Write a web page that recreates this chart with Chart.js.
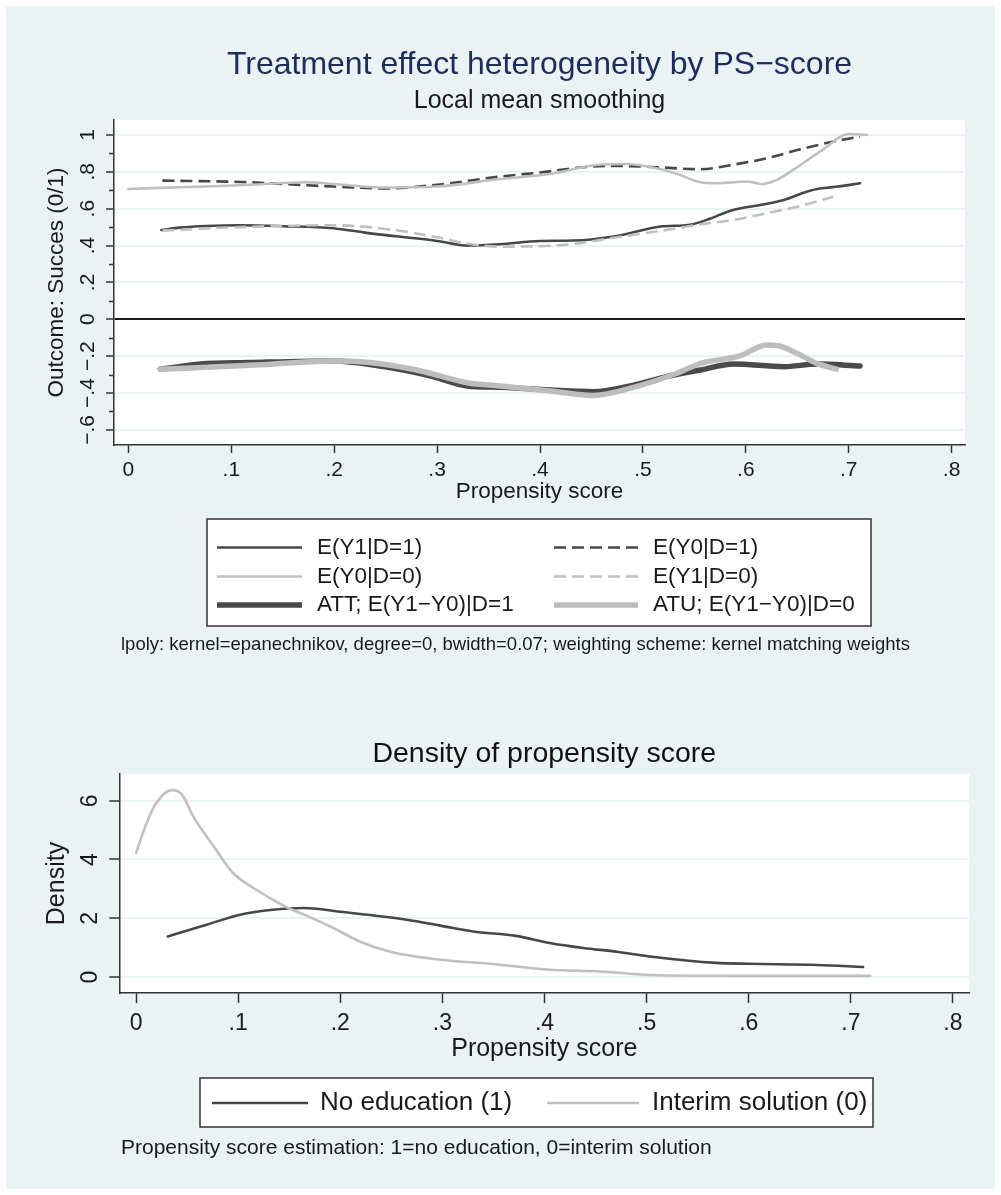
<!DOCTYPE html>
<html>
<head>
<meta charset="utf-8">
<title>Treatment effect heterogeneity by PS-score</title>
<script src="https://cdn.jsdelivr.net/npm/chart.js@4.4.1/dist/chart.umd.min.js"></script>
<style>
  html, body { margin: 0; padding: 0; background: #fff; }
  #page { position: relative; width: 1001px; height: 1195px; }
  #panel { position: absolute; left: 6px; top: 6px; width: 989px; height: 1183px; background: #eaf2f3; }
  canvas { position: absolute; left: 0; }
  #effects { top: 0; }
  #density { top: 680px; }
</style>
</head>
<body>
<div id="page">
  <div id="panel"></div>
  <canvas id="effects" width="1001" height="680"></canvas>
  <canvas id="density" width="1001" height="515"></canvas>
</div>
<script>
// Treatment effect heterogeneity + propensity score density (Stata style)

// ---- data: top panel ----
const xTicks = [0, 0.1, 0.2, 0.3, 0.4, 0.5, 0.6, 0.7, 0.8];
const xTickLabels = ['0', '.1', '.2', '.3', '.4', '.5', '.6', '.7', '.8'];
const yTicksTop = [-0.6, -0.4, -0.2, 0, 0.2, 0.4, 0.6, 0.8, 1];
const yTickLabelsTop = ['\u2212.6', '\u2212.4', '\u2212.2', '0', '.2', '.4', '.6', '.8', '1'];
const yMinorTop = [-0.5, -0.3, -0.1, 0.1, 0.3, 0.5, 0.7, 0.9];

const y1d1X = [0.032, 0.05, 0.076, 0.109, 0.15, 0.199, 0.23, 0.26, 0.30, 0.33, 0.361, 0.40, 0.432, 0.475, 0.517, 0.546, 0.565, 0.585, 0.614, 0.637, 0.659, 0.672, 0.69, 0.711];
const y1d1Y = [0.484, 0.497, 0.506, 0.51, 0.505, 0.494, 0.47, 0.45, 0.425, 0.40, 0.407, 0.425, 0.427, 0.452, 0.503, 0.513, 0.545, 0.589, 0.620, 0.647, 0.692, 0.709, 0.72, 0.738];

const y0d1X = [0.033, 0.109, 0.199, 0.25, 0.30, 0.361, 0.40, 0.442, 0.475, 0.513, 0.556, 0.588, 0.62, 0.653, 0.685, 0.711];
const y0d1Y = [0.752, 0.745, 0.72, 0.71, 0.73, 0.774, 0.796, 0.825, 0.832, 0.825, 0.814, 0.839, 0.873, 0.922, 0.964, 0.991];

const y0d0X = [0.0, 0.05, 0.109, 0.173, 0.199, 0.25, 0.30, 0.361, 0.41, 0.455, 0.484, 0.513, 0.535, 0.556, 0.572, 0.601, 0.616, 0.630, 0.646, 0.672, 0.701, 0.718];
const y0d0Y = [0.707, 0.716, 0.727, 0.743, 0.734, 0.715, 0.72, 0.761, 0.788, 0.837, 0.842, 0.819, 0.785, 0.743, 0.738, 0.747, 0.733, 0.756, 0.81, 0.909, 1.005, 1.0];

const y1d0X = [0.033, 0.109, 0.199, 0.25, 0.30, 0.33, 0.361, 0.426, 0.475, 0.523, 0.556, 0.588, 0.62, 0.653, 0.685];
const y1d0Y = [0.481, 0.50, 0.51, 0.49, 0.445, 0.41, 0.394, 0.405, 0.445, 0.485, 0.515, 0.539, 0.575, 0.615, 0.665];

const attX = [0.031, 0.07, 0.118, 0.2, 0.248, 0.296, 0.329, 0.361, 0.41, 0.452, 0.491, 0.523, 0.556, 0.588, 0.637, 0.669, 0.711];
const attY = [-0.271, -0.243, -0.235, -0.226, -0.257, -0.311, -0.362, -0.369, -0.384, -0.393, -0.357, -0.311, -0.275, -0.243, -0.257, -0.243, -0.253];

const atuX = [0.031, 0.118, 0.2, 0.232, 0.28, 0.329, 0.361, 0.41, 0.452, 0.491, 0.533, 0.556, 0.594, 0.62, 0.633, 0.653, 0.669, 0.688];
const atuY = [-0.271, -0.25, -0.226, -0.233, -0.275, -0.344, -0.362, -0.389, -0.413, -0.369, -0.293, -0.239, -0.199, -0.139, -0.145, -0.194, -0.239, -0.271];

// ---- data: bottom panel ----
const yTicksBottom = [0, 2, 4, 6];
const yTickLabelsBottom = ['0', '2', '4', '6'];

const noEduX = [0.031, 0.069, 0.102, 0.134, 0.164, 0.2, 0.265, 0.298, 0.33, 0.372, 0.405, 0.438, 0.471, 0.503, 0.568, 0.601, 0.667, 0.712];
const noEduY = [1.38, 1.78, 2.12, 2.29, 2.35, 2.22, 1.95, 1.75, 1.55, 1.40, 1.16, 0.99, 0.86, 0.70, 0.48, 0.45, 0.41, 0.34];

const interimX = [0, 0.0105, 0.02, 0.035, 0.045, 0.056, 0.076, 0.095, 0.115, 0.149, 0.167, 0.193, 0.219, 0.249, 0.298, 0.347, 0.405, 0.454, 0.503, 0.601, 0.719];
const interimY = [4.22, 5.25, 5.93, 6.36, 6.21, 5.47, 4.45, 3.54, 3.03, 2.35, 2.09, 1.67, 1.21, 0.86, 0.59, 0.45, 0.25, 0.19, 0.07, 0.04, 0.04];

const FONT = "'Liberation Sans', Arial, Helvetica, sans-serif";
const DARK = '#474747';
const LIGHT = '#c0c0c0';
const INK = '#1a1a1a';
const GRID = '#eaf2f3';

Chart.defaults.font.family = FONT;
Chart.defaults.color = INK;

const toPoints = (xs, ys) => xs.map((x, i) => ({ x: x, y: ys[i] }));

function series(label, xs, ys, color, width, dash, order) {
  return {
    label: label,
    data: toPoints(xs, ys),
    borderColor: color,
    borderWidth: width,
    borderDash: dash,
    borderCapStyle: dash.length ? 'butt' : 'round',
    borderJoinStyle: 'round',
    cubicInterpolationMode: 'monotone',
    pointRadius: 0,
    fill: false,
    order: order
  };
}

// white plot region, rotated y labels, minor ticks, boxed legend and note
const stataDecor = {
  id: 'stataDecor',
  beforeDraw(chart) {
    const { ctx, chartArea: a } = chart;
    ctx.save();
    ctx.fillStyle = '#ffffff';
    ctx.fillRect(a.left, a.top, a.right - a.left, a.bottom - a.top);
    ctx.restore();
  },
  afterDraw(chart, args, opts) {
    const { ctx, chartArea: a } = chart;
    const yScale = chart.scales.y;
    ctx.save();

    // rotated y tick labels
    ctx.fillStyle = INK;
    ctx.font = opts.tickSize + 'px ' + FONT;
    ctx.textAlign = 'center';
    ctx.textBaseline = 'alphabetic';
    opts.yTicks.forEach((v, i) => {
      const py = yScale.getPixelForValue(v);
      ctx.save();
      ctx.translate(opts.yLabelX, py);
      ctx.rotate(-Math.PI / 2);
      ctx.fillText(opts.yLabels[i], 0, 0);
      ctx.restore();
    });

    // minor ticks
    ctx.strokeStyle = '#333';
    ctx.lineWidth = 1.5;
    (opts.yMinor || []).forEach(v => {
      const py = Math.round(yScale.getPixelForValue(v)) + 0.5;
      ctx.beginPath();
      ctx.moveTo(a.left - 5, py);
      ctx.lineTo(a.left, py);
      ctx.stroke();
    });

    // legend box
    const lg = opts.legend;
    ctx.fillStyle = '#ffffff';
    ctx.fillRect(lg.x, lg.y, lg.w, lg.h);
    ctx.strokeStyle = '#333';
    ctx.lineWidth = 1.5;
    ctx.strokeRect(lg.x, lg.y, lg.w, lg.h);

    ctx.font = lg.size + 'px ' + FONT;
    ctx.textAlign = 'left';
    ctx.textBaseline = 'middle';
    chart.data.datasets.forEach((ds, i) => {
      const col = i % lg.keyX.length;
      const row = Math.floor(i / lg.keyX.length);
      const ky = lg.rowY[row];
      ctx.save();
      ctx.strokeStyle = ds.borderColor;
      ctx.lineWidth = ds.borderWidth;
      ctx.setLineDash(ds.borderDash || []);
      ctx.lineCap = 'butt';
      ctx.beginPath();
      ctx.moveTo(lg.keyX[col], ky);
      ctx.lineTo(lg.keyX[col] + lg.keyW[col], ky);
      ctx.stroke();
      ctx.restore();
      ctx.fillStyle = INK;
      ctx.fillText(ds.label, lg.textX[col], ky);
    });

    // note
    ctx.font = opts.note.size + 'px ' + FONT;
    ctx.fillStyle = INK;
    ctx.textAlign = 'left';
    ctx.textBaseline = 'middle';
    ctx.fillText(opts.note.text, opts.note.x, opts.note.y);

    ctx.restore();
  }
};

function axisX(min, max, height, tickLen, pad, tickSize, titleSize, titlePad) {
  return {
    type: 'linear',
    min: min,
    max: max,
    afterBuildTicks: s => { s.ticks = xTicks.map(v => ({ value: v })); },
    afterFit: s => { s.height = height; },
    ticks: {
      callback: (v, i) => xTickLabels[i],
      font: { size: tickSize },
      color: INK,
      padding: pad,
      maxRotation: 0,
      autoSkip: false
    },
    grid: { drawOnChartArea: false, tickLength: tickLen, tickColor: '#333', tickWidth: 1.5 },
    border: { color: '#333', width: 1.5 },
    title: { display: true, text: 'Propensity score', font: { size: titleSize }, color: INK, padding: { top: 0, bottom: titlePad } }
  };
}

function axisY(min, max, width, ticks, tickLen, title, titleSize, titlePad) {
  return {
    type: 'linear',
    min: min,
    max: max,
    afterBuildTicks: s => { s.ticks = ticks.map(v => ({ value: v })); },
    afterFit: s => { s.width = width; },
    ticks: { display: false },
    grid: {
      color: c => (c.tick && c.tick.value === 0 && ticks[0] < 0) ? '#1a1a1a' : GRID,
      lineWidth: 2,
      tickLength: tickLen,
      tickColor: '#333',
      tickWidth: 1.5
    },
    border: { color: '#333', width: 1.5 },
    title: { display: true, text: title, font: { size: titleSize }, color: INK, padding: { top: titlePad, bottom: 0 } }
  };
}

// ---- top chart ----
new Chart(document.getElementById('effects'), {
  type: 'line',
  data: {
    datasets: [
      series('E(Y1|D=1)', y1d1X, y1d1Y, DARK, 2.6, [], 5),
      series('E(Y0|D=1)', y0d1X, y0d1Y, DARK, 2.6, [12, 6], 4),
      series('E(Y0|D=0)', y0d0X, y0d0Y, LIGHT, 2.6, [], 3),
      series('E(Y1|D=0)', y1d0X, y1d0Y, LIGHT, 2.6, [12, 6], 2),
      series('ATT; E(Y1\u2212Y0)|D=1', attX, attY, '#4a4a4a', 5.5, [], 1),
      series('ATU; E(Y1\u2212Y0)|D=0', atuX, atuY, '#bdbdc0', 5.5, [], 0)
    ]
  },
  options: {
    responsive: false,
    animation: false,
    events: [],
    layout: { padding: { left: 0, right: 36, top: 0, bottom: 0 } },
    scales: {
      x: axisX(-0.014, 0.813, 235, 8, 5, 21, 22.5, 174.5),
      y: axisY(-0.682, 1.081, 114, yTicksTop, 8, 'Outcome: Succes (0/1)', 22.5, 43.5)
    },
    plugins: {
      legend: { display: false },
      tooltip: { enabled: false },
      title: {
        display: true,
        fullSize: false,
        text: 'Treatment effect heterogeneity by PS\u2212score',
        color: '#1e2d5a',
        font: { size: 32, weight: 'normal' },
        padding: { top: 45.8, bottom: 0 }
      },
      subtitle: {
        display: true,
        fullSize: false,
        text: 'Local mean smoothing',
        color: INK,
        font: { size: 25 },
        padding: { top: 2.3, bottom: 3.5 }
      },
      stataDecor: {
        tickSize: 21,
        yLabelX: 94,
        yTicks: yTicksTop,
        yLabels: yTickLabelsTop,
        yMinor: yMinorTop,
        legend: {
          x: 207, y: 519, w: 664, h: 107, size: 22.5,
          keyX: [217, 554], keyW: [85, 84], textX: [317, 653],
          rowY: [547.5, 576.5, 605]
        },
        note: {
          text: 'lpoly: kernel=epanechnikov, degree=0, bwidth=0.07; weighting scheme: kernel matching weights',
          x: 121, y: 645, size: 18.5
        }
      }
    }
  },
  plugins: [stataDecor]
});

// ---- bottom chart ----
new Chart(document.getElementById('density'), {
  type: 'line',
  data: {
    datasets: [
      series('No education (1)', noEduX, noEduY, DARK, 2.6, [], 1),
      series('Interim solution (0)', interimX, interimY, LIGHT, 2.6, [], 0)
    ]
  },
  options: {
    responsive: false,
    animation: false,
    events: [],
    layout: { padding: { left: 0, right: 31.7, top: 0, bottom: 0 } },
    scales: {
      x: axisX(-0.0164, 0.816, 202, 10, 7, 23, 25, 131),
      y: axisY(-0.544, 6.91, 119.3, yTicksBottom, 10, 'Density', 25, 42)
    },
    plugins: {
      legend: { display: false },
      tooltip: { enabled: false },
      title: {
        display: true,
        fullSize: false,
        text: 'Density of propensity score',
        color: '#111111',
        font: { size: 28.5, weight: 'normal' },
        padding: { top: 56.9, bottom: 2.9 }
      },
      stataDecor: {
        tickSize: 23,
        yLabelX: 97,
        yTicks: yTicksBottom,
        yLabels: yTickLabelsBottom,
        yMinor: [],
        legend: {
          x: 200, y: 398, w: 673, h: 49, size: 26,
          keyX: [212, 547], keyW: [96, 92], textX: [320, 652],
          rowY: [423]
        },
        note: {
          text: 'Propensity score estimation: 1=no education, 0=interim solution',
          x: 121, y: 468, size: 21
        }
      }
    }
  },
  plugins: [stataDecor]
});
</script>
</body>
</html>
